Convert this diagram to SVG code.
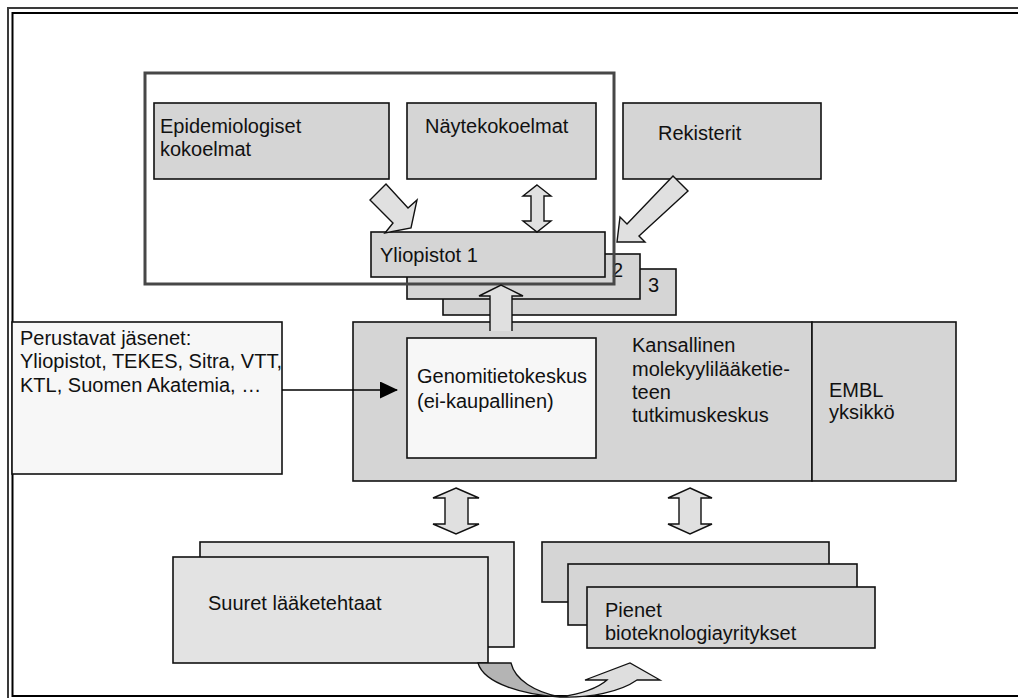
<svg xmlns="http://www.w3.org/2000/svg" width="1018" height="698" viewBox="0 0 1018 698">
<defs>
<style>
text{font-family:"Liberation Sans",Arial,Helvetica,sans-serif;font-size:20px;fill:#111}
.box{fill:#d5d5d5;stroke:#111;stroke-width:1.6}
.light{fill:#f7f7f7;stroke:#111;stroke-width:1.6}
.mid{fill:#e3e3e3;stroke:#111;stroke-width:1.6}
.arr{fill:#e0e0e0;stroke:#111;stroke-width:1.4;stroke-linejoin:miter}
.arrf{fill:#e0e0e0;stroke:none}
.arrs{fill:none;stroke:#111;stroke-width:1.4}
</style>
<marker id="tri" viewBox="0 0 18 17" refX="17" refY="8.5" markerWidth="18" markerHeight="17" markerUnits="userSpaceOnUse" orient="auto">
<path d="M0,0 L18,8.5 L0,17 Z" fill="#000"/>
</marker>
</defs>
<rect width="1018" height="698" fill="#fff"/>
<g id="frame">
<rect x="8" y="8" width="1030" height="710" fill="none" stroke="#3a3a3a" stroke-width="2"/>
<rect x="12.5" y="13" width="1030" height="683" fill="none" stroke="#000" stroke-width="2"/>
</g>
<g id="epidemiologiset">
<rect class="box" x="154" y="103" width="235" height="76"/>
<text x="160" y="133">Epidemiologiset</text>
<text x="160" y="156">kokoelmat</text>
</g>
<g id="naytekokoelmat">
<rect class="box" x="407" y="103" width="189" height="76"/>
<text x="425" y="133">Näytekokoelmat</text>
</g>
<g id="rekisterit">
<rect class="box" x="623" y="103" width="198" height="76"/>
<text x="658" y="140">Rekisterit</text>
</g>
<g id="yliopistot3">
<rect class="box" x="443" y="269" width="233" height="46"/>
<text x="648" y="292">3</text>
</g>
<g id="yliopistot2">
<rect class="box" x="407" y="254" width="233" height="45"/>
<text x="612" y="277">2</text>
</g>
<g id="yliopistot1">
<rect class="box" x="371" y="232" width="234" height="45"/>
<text x="380" y="262">Yliopistot 1</text>
</g>
<g id="yliopistot-ryhma">
<rect x="145" y="73" width="469" height="211" fill="none" stroke="#474747" stroke-width="3"/>
</g>
<g id="kansallinen">
<rect class="box" x="353" y="322" width="459" height="159"/>
<text x="632" y="352">Kansallinen</text>
<text x="632" y="376">molekyylilääketie-</text>
<text x="632" y="399">teen</text>
<text x="632" y="422">tutkimuskeskus</text>
</g>
<g id="embl">
<rect class="box" x="812" y="322" width="144" height="159"/>
<text x="829" y="397">EMBL</text>
<text x="829" y="419">yksikkö</text>
</g>
<g id="genomitietokeskus">
<rect class="light" x="407" y="338" width="189" height="120"/>
<text x="417" y="383">Genomitietokeskus</text>
<text x="417" y="408">(ei-kaupallinen)</text>
</g>
<g id="perustavat">
<rect class="light" x="12" y="322" width="270" height="152"/>
<text x="20" y="345">Perustavat jäsenet:</text>
<text x="20" y="368">Yliopistot, TEKES, Sitra, VTT,</text>
<text x="20" y="392">KTL, Suomen Akatemia, …</text>
</g>
<g id="suuret">
<rect class="mid" x="200" y="542" width="314" height="105"/>
<rect class="mid" x="173" y="557" width="315" height="106"/>
<text x="208" y="610">Suuret lääketehtaat</text>
</g>
<g id="pienet">
<rect class="box" x="542" y="542" width="287" height="60"/>
<rect class="box" x="568" y="564" width="289" height="61"/>
<rect class="box" x="587" y="587" width="288" height="61"/>
<text x="605" y="617">Pienet</text>
<text x="605" y="640">bioteknologiayritykset</text>
</g>
<g id="connectors">
<polygon class="arr" points="370,200 386,184 408,208 417,200 411,228 385,233 393,223"/>
<polygon class="arr" points="537,185 551,196 544,196 544,221 551,221 537,232 523,221 531,221 531,196 523,196"/>
<polygon class="arr" points="673,176 688,191 639,236 645,242 617,242 620,217 627,224"/>
<polygon class="arrf" points="490,331 490,296 479,296 501,285 523,296 512,296 512,331"/>
<path class="arrs" d="M490,331 L490,296 L479,296 L501,285 L523,296 L512,296 L512,331"/>
<polygon class="arr" points="456,488 479,498 468,498 468,524 479,524 456,534 433,524 445,524 445,498 433,498"/>
<polygon class="arr" points="690,488 712,498 701,498 701,524 712,524 690,534 668,524 679,524 679,498 668,498"/>
<line x1="282" y1="390" x2="397" y2="390" stroke="#000" stroke-width="1.6" marker-end="url(#tri)"/>
<path d="M478,663 L511,663 C515,680 535,692 560,697 C525,695 484,684 478,663 Z" fill="#b4b4b4" stroke="#111" stroke-width="1.3"/>
<path d="M560,697 C580,694 598,688 607,680 L585,680 L630,663 L660,680 L637,680 C620,692 590,698 560,697 Z" fill="#dedede" stroke="#111" stroke-width="1.3"/>
</g>
</svg>
